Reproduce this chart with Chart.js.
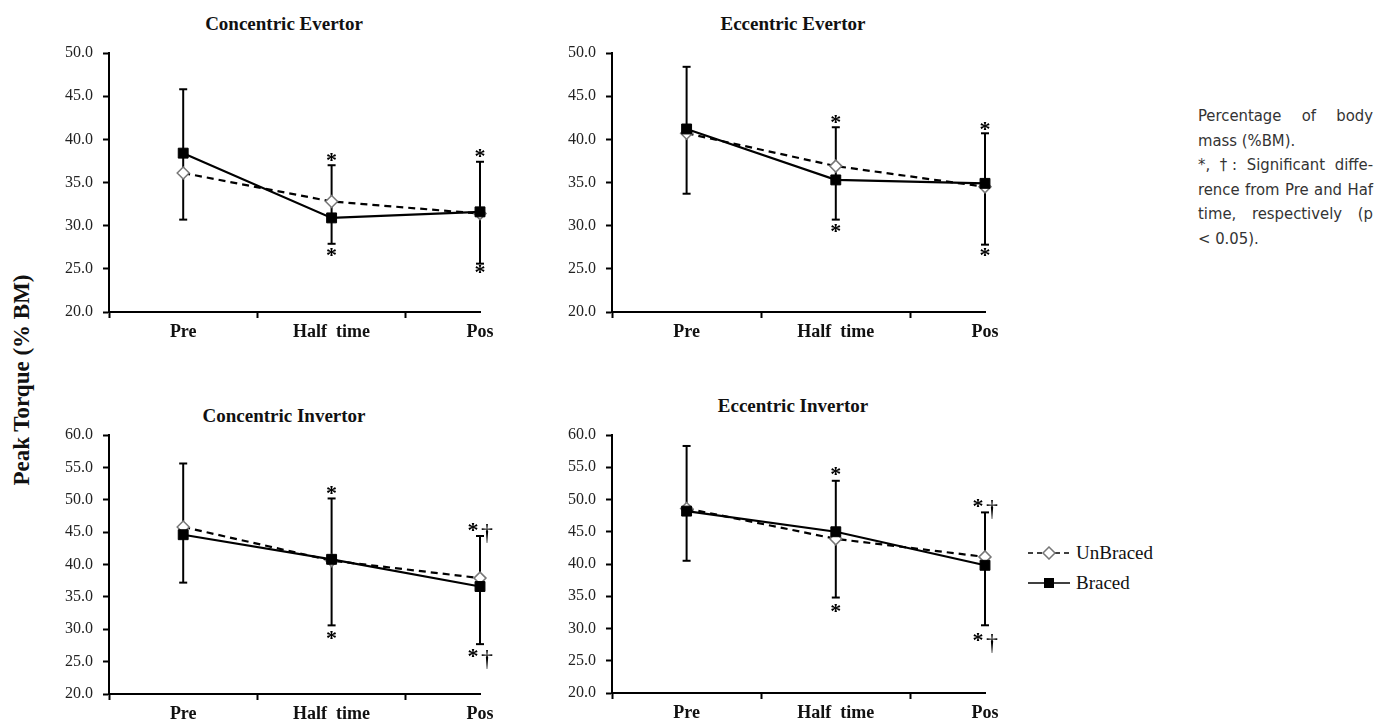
<!DOCTYPE html>
<html>
<head>
<meta charset="utf-8">
<script src="https://cdn.jsdelivr.net/npm/chart.js@4/dist/chart.umd.min.js"></script>
<style>
  html, body { margin: 0; padding: 0; background: #fff; overflow: hidden; }
  #page { position: relative; width: 1390px; height: 720px; }
  .panel { position: absolute; }
  .title {
    position: absolute;
    font: bold 19px 'Liberation Serif', 'Times New Roman', serif;
    color: #111;
    transform: translateX(-50%);
    white-space: nowrap;
  }
  #yTitle {
    position: absolute;
    left: 22px;
    top: 380px;
    font: bold 23px 'Liberation Serif', 'Times New Roman', serif;
    color: #111;
    transform: translate(-50%, -50%) rotate(-90deg);
    white-space: nowrap;
  }
  #note {
    position: absolute;
    left: 1198px;
    top: 104px;
    width: 175px;
    font-family: 'DejaVu Sans Condensed', 'DejaVu Sans', sans-serif;
    font-stretch: condensed;
    font-size: 16.5px;
    line-height: 24.5px;
    color: #333;
  }
  #note div { white-space: nowrap; }
  #note .j { text-align: justify; text-align-last: justify; }
  #legend {
    position: absolute;
    left: 1028px;
    top: 538px;
    font: 19px 'Liberation Serif', 'Times New Roman', serif;
    color: #111;
  }
  #legend .row { display: flex; align-items: center; height: 30px; }
  #legend svg { margin-right: 6px; }
</style>
</head>
<body>
<div id="page">
  <div class="title" style="left:284px; top:13px;">Concentric Evertor</div>
  <div class="title" style="left:793px; top:13px;">Eccentric Evertor</div>
  <div class="title" style="left:284px; top:405px;">Concentric Invertor</div>
  <div class="title" style="left:793px; top:395px;">Eccentric Invertor</div>

  <canvas class="panel" id="ceChart" width="471" height="309" style="left:39px; top:33px;"></canvas>
  <canvas class="panel" id="eeChart" width="473" height="309" style="left:542px; top:33px;"></canvas>
  <canvas class="panel" id="ciChart" width="471" height="309" style="left:39px; top:415px;"></canvas>
  <canvas class="panel" id="eiChart" width="473" height="308" style="left:542px; top:415px;"></canvas>

  <div id="yTitle">Peak Torque (% BM)</div>

  <div id="note">
    <div class="j">Percentage of body</div>
    <div>mass (%BM).</div>
    <div class="j">*, †: Significant diffe-</div>
    <div class="j">rence from Pre and Haf</div>
    <div class="j">time, respectively (p</div>
    <div>&lt; 0.05).</div>
  </div>

  <div id="legend">
    <div class="row">
      <svg width="42" height="14"><line x1="0" y1="7" x2="42" y2="7" stroke="#000" stroke-width="1.5" stroke-dasharray="5,4"/><polygon points="21,1 27,7 21,13 15,7" fill="#fff" stroke="#777" stroke-width="1.5"/></svg>
      <span>UnBraced</span>
    </div>
    <div class="row">
      <svg width="42" height="14"><line x1="0" y1="7" x2="42" y2="7" stroke="#000" stroke-width="1.5"/><rect x="16" y="2" width="10" height="10" fill="#000"/></svg>
      <span>Braced</span>
    </div>
  </div>
</div>

<script>
const categories = ['Pre', 'Half  time', 'Pos'];

// Concentric Evertor
const ceUnbraced = [36.1, 32.8, 31.4];
const ceBraced = [38.4, 30.9, 31.6];
const ceErrLow = [30.7, 27.9, 25.6];
const ceErrHigh = [45.8, 37.0, 37.4];
const ceMarks = [[1, 38.0, '*'], [1, 27.0, '*'], [2, 38.4, '*'], [2, 25.0, '*']];

// Eccentric Evertor
const eeUnbraced = [40.7, 36.9, 34.5];
const eeBraced = [41.2, 35.3, 34.9];
const eeErrLow = [33.7, 30.7, 27.8];
const eeErrHigh = [48.4, 41.4, 40.7];
const eeMarks = [[1, 42.3, '*'], [1, 29.7, '*'], [2, 41.6, '*'], [2, 27.0, '*']];

// Concentric Invertor
const ciUnbraced = [45.8, 40.6, 37.9];
const ciBraced = [44.6, 40.8, 36.6];
const ciErrLow = [37.2, 30.6, 27.7];
const ciErrHigh = [55.6, 50.2, 44.4];
const ciMarks = [[1, 51.5, '*'], [1, 29.1, '*'], [2, 45.8, '*†'], [2, 26.3, '*†']];

// Eccentric Invertor
const eiUnbraced = [48.6, 43.9, 41.1];
const eiBraced = [48.2, 45.0, 39.8];
const eiErrLow = [40.5, 34.8, 30.5];
const eiErrHigh = [58.3, 52.9, 48.0];
const eiMarks = [[1, 54.4, '*'], [1, 33.2, '*'], [2, 49.5, '*†'], [2, 28.7, '*†']];

const evertorRange = [20, 50];
const invertorRange = [20, 60];
const yStep = 5;

const SERIF = "'Liberation Serif', 'Times New Roman', serif";

// draws the * and † markers next to the error bars
const sigMarkPlugin = {
  id: 'sigMarks',
  afterDatasetsDraw(chart, args, opts) {
    const { ctx } = chart;
    const xs = chart.scales.x;
    const ys = chart.scales.y;
    ctx.save();
    ctx.fillStyle = '#000';
    ctx.textAlign = 'center';
    ctx.textBaseline = 'alphabetic';
    (opts.marks || []).forEach(([i, value, text]) => {
      const px = xs.getPixelForValue(i);
      const py = ys.getPixelForValue(value);
      if (text === '*') {
        ctx.font = `bold 22px ${SERIF}`;
        ctx.fillText('*', px, py + 10);
      } else {
        ctx.font = `bold 22px ${SERIF}`;
        ctx.fillText('*', px - 7, py + 10);
        ctx.font = `24px ${SERIF}`;
        ctx.fillText('†', px + 7, py + 13);
      }
    });
    ctx.restore();
  }
};

function points(values) {
  return values.map((v, i) => ({ x: i, y: v }));
}

function errorBar(i, low, high) {
  return {
    data: [{ x: i, y: low }, { x: i, y: high }],
    showLine: true,
    clip: false,
    borderColor: '#000',
    borderWidth: 2,
    pointStyle: 'line',
    pointRadius: 4,
    pointBorderWidth: 2,
    pointBorderColor: '#000',
    order: 3
  };
}

function makeChart(id, unbraced, braced, errLow, errHigh, marks, range) {
  const datasets = [
    {
      label: 'Braced',
      data: points(braced),
      showLine: true,
      clip: false,
      borderColor: '#000',
      borderWidth: 2.2,
      pointStyle: 'rect',
      pointRadius: 7,
      pointBackgroundColor: '#000',
      pointBorderColor: '#000',
      pointBorderWidth: 1,
      order: 1
    },
    {
      label: 'UnBraced',
      data: points(unbraced),
      showLine: true,
      clip: false,
      borderColor: '#000',
      borderWidth: 2.2,
      borderDash: [7, 5],
      pointStyle: 'rectRot',
      pointRadius: 6,
      pointBackgroundColor: '#fff',
      pointBorderColor: '#777',
      pointBorderWidth: 1.5,
      order: 2
    }
  ];
  categories.forEach((c, i) => datasets.push(errorBar(i, errLow[i], errHigh[i])));

  return new Chart(document.getElementById(id), {
    type: 'scatter',
    data: { datasets },
    plugins: [sigMarkPlugin],
    options: {
      responsive: false,
      animation: false,
      events: [],
      layout: { padding: { top: 20, right: 30, left: 0, bottom: 0 } },
      plugins: {
        legend: { display: false },
        tooltip: { enabled: false },
        sigMarks: { marks }
      },
      scales: {
        x: {
          type: 'linear',
          min: -0.5,
          max: 2,
          afterBuildTicks(scale) {
            scale.ticks = [-0.5, 0, 0.5, 1, 1.5, 2].map((value) => ({ value }));
          },
          afterFit(scale) { scale.height = 30; },
          ticks: {
            autoSkip: false,
            maxRotation: 0,
            padding: 4,
            color: '#111',
            font: { family: SERIF, size: 18, weight: 'bold' },
            callback: (v) => (Number.isInteger(v) ? categories[v] : '')
          },
          grid: {
            drawOnChartArea: false,
            drawTicks: true,
            tickLength: 6,
            tickWidth: 2,
            color: (ctx) => (ctx.tick && Number.isInteger(ctx.tick.value) ? 'rgba(0,0,0,0)' : '#000')
          },
          border: { color: '#000', width: 2 }
        },
        y: {
          min: range[0],
          max: range[1],
          afterFit(scale) { scale.width = 70; },
          ticks: {
            stepSize: yStep,
            padding: 10,
            color: '#222',
            font: { family: SERIF, size: 16 },
            callback: (v) => v.toFixed(1)
          },
          grid: {
            drawOnChartArea: false,
            drawTicks: true,
            tickLength: 6,
            tickWidth: 2,
            color: '#000'
          },
          border: { color: '#000', width: 2 }
        }
      }
    }
  });
}

makeChart('ceChart', ceUnbraced, ceBraced, ceErrLow, ceErrHigh, ceMarks, evertorRange);
makeChart('eeChart', eeUnbraced, eeBraced, eeErrLow, eeErrHigh, eeMarks, evertorRange);
makeChart('ciChart', ciUnbraced, ciBraced, ciErrLow, ciErrHigh, ciMarks, invertorRange);
makeChart('eiChart', eiUnbraced, eiBraced, eiErrLow, eiErrHigh, eiMarks, invertorRange);
</script>
</body>
</html>
